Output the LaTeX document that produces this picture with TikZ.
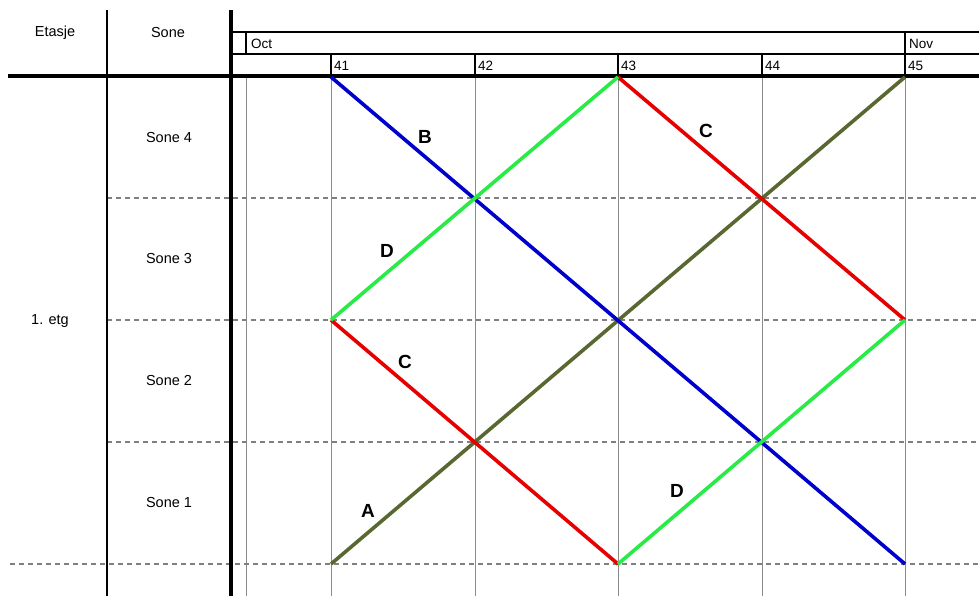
\documentclass[tikz,border=0pt]{standalone}
\usepackage{fontspec}
\setmainfont{Liberation Sans}
\begin{document}
\begin{tikzpicture}[x=1pt,y=-1pt,
  hdr/.style={font=\fontsize{13.5}{15}\selectfont,inner sep=0pt,anchor=west},
  lbl/.style={font=\fontsize{14.5}{16}\selectfont,inner sep=0pt},
  task/.style={font=\bfseries\fontsize{19}{21}\selectfont,inner sep=0pt},
  grid/.style={draw=gray!90,line width=1pt},
  zone/.style={draw=gray,line width=1.1pt,dash pattern=on 5pt off 4pt},
  bar/.style={line width=3.6pt},
  colA/.style={draw={rgb,255:red,88;green,104;blue,48}},
  colB/.style={draw={rgb,255:red,0;green,0;blue,205}},
  colC/.style={draw={rgb,255:red,230;green,0;blue,0}},
  colD/.style={draw={rgb,255:red,40;green,235;blue,70}}]
\useasboundingbox (0,0) rectangle (979,596);
% gray vertical week lines
\foreach \x in {246,331,475,618,762,905} \draw[grid] (\x,76) -- (\x,596);
% dashed zone lines
\draw[zone] (107,198) -- (979,198);
\draw[zone] (107,320) -- (979,320);
\draw[zone] (107,442) -- (979,442);
\draw[zone] (10,564) -- (979,564);
% header frame
\draw[line width=1.8pt] (107,10) -- (107,596);
\draw[line width=3.2pt] (231,10) -- (231,596);
\draw[line width=3.2pt] (8,76) -- (979,76);
\draw[line width=1.5pt] (231,32) -- (979,32);
\draw[line width=1.5pt] (231,54) -- (979,54);
\draw[line width=1.5pt] (246,32) -- (246,54);
\draw[line width=1.5pt] (905,32) -- (905,76);
\foreach \x in {331,475,618,762} \draw[line width=1.5pt] (\x,54) -- (\x,76);
% header text
\node[lbl] (etasje) at (55,33) {Etasje};
\node[lbl] (sone) at (168,33) {Sone};
\node[hdr] (oct) at (251,44) {Oct};
\node[hdr] (nov) at (909,44) {Nov};
\node[hdr] (w41) at (334,66) {41};
\node[hdr] (w42) at (478,66) {42};
\node[hdr] (w43) at (621,66) {43};
\node[hdr] (w44) at (765,66) {44};
\node[hdr] (w45) at (908,66) {45};
% row labels
\node[lbl] (s4) at (169,138) {Sone 4};
\node[lbl] (s3) at (169,259) {Sone 3};
\node[lbl] (s2) at (169,381) {Sone 2};
\node[lbl] (s1) at (169,503) {Sone 1};
\node[lbl] (etg) at (50,321) {1. etg};
% grid points
\coordinate (p41t) at (331,77);
\coordinate (p41m) at (331,320);
\coordinate (p41b) at (331,564);
\coordinate (p43t) at (618,77);
\coordinate (p43b) at (618,564);
\coordinate (p45t) at (905,77);
\coordinate (p45m) at (905,320);
\coordinate (p45b) at (905,564);
% task lines
\draw[bar,colA] (p41b) -- (p45t);
\draw[bar,colB] (p41t) -- (p45b);
\draw[bar,colC] (p41m) -- (p43b);
\draw[bar,colC] (p43t) -- (p45m);
\draw[bar,colD] (p41m) -- (p43t);
\draw[bar,colD] (p43b) -- (p45m);
% task labels
\node[task] (lB) at (425,137) {B};
\node[task] (lD1) at (387,251) {D};
\node[task] (lC1) at (405,362) {C};
\node[task] (lA) at (368,511) {A};
\node[task] (lC2) at (706,131) {C};
\node[task] (lD2) at (677,491) {D};
\end{tikzpicture}
\end{document}
